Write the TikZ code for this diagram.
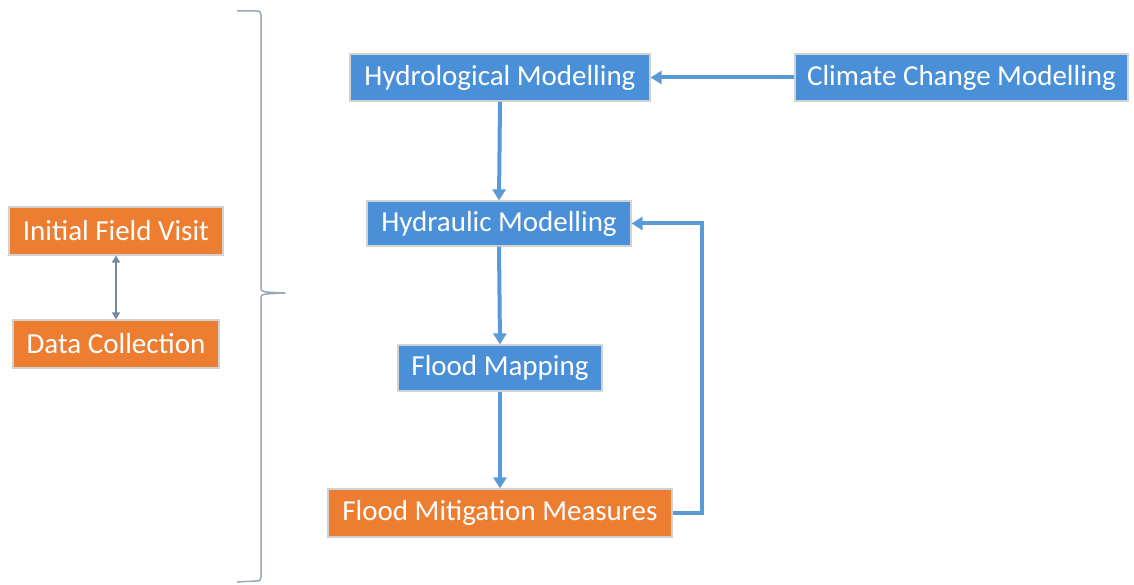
\documentclass[tikz,border=0pt]{standalone}
\usepackage{fontspec}
\setmainfont{Carlito}
\usetikzlibrary{arrows.meta}
\definecolor{boxblue}{HTML}{4A90D9}
\definecolor{boxorange}{HTML}{ED7D31}
\definecolor{linkblue}{HTML}{5B9BD5}
\definecolor{bracegray}{HTML}{9AA8B8}
\begin{document}
\begin{tikzpicture}[x=1pt,y=-1pt,
  box/.style={draw=gray!35, line width=1.2pt, text=white, inner sep=0pt,
    font=\fontsize{29}{31}\selectfont},
  bluebox/.style={box, fill=boxblue},
  orangebox/.style={box, fill=boxorange},
  flow/.style={draw=linkblue, line width=4pt, -{Triangle[length=11pt,width=13pt]}},
  thinlink/.style={draw=gray!70!linkblue, line width=1.6pt, {Triangle[length=7pt,width=8pt,fill=linkblue]}-{Triangle[length=7pt,width=8pt,fill=linkblue]}}
]
\useasboundingbox (0,0) rectangle (1134,585);

% left-hand preparation steps
\node[orangebox, minimum width=214pt, minimum height=48pt] (visit) at (116,231) {Initial Field Visit};
\node[orangebox, minimum width=206pt, minimum height=48pt] (data) at (116,344) {Data Collection};
\draw[thinlink] (visit.south) -- (data.north);

% brace grouping the preparation steps
\draw[bracegray, line width=1.5pt, line join=round]
  (237,11) -- (256,11) .. controls (260,11) .. (261,15) -- (261,289)
  .. controls (262,292) .. (285,293)
  .. controls (262,294) .. (261,297) -- (261,577)
  .. controls (260,581) .. (256,581) -- (237,582);

% modelling chain
\node[bluebox, minimum width=300pt, minimum height=47pt] (hydro) at (500,77.5) {Hydrological Modelling};
\node[bluebox, minimum width=333pt, minimum height=47pt] (climate) at (961.5,77.5) {Climate Change Modelling};
\node[bluebox, minimum width=264pt, minimum height=45pt] (hydraulic) at (499,223.5) {Hydraulic Modelling};
\node[bluebox, minimum width=204pt, minimum height=46pt] (mapping) at (500,368) {Flood Mapping};
\node[orangebox, minimum width=344pt, minimum height=48pt] (mitigation) at (500,513) {Flood Mitigation Measures};

\draw[flow] (climate.west) -- (hydro.east);
\draw[flow] (hydro.south) -- (hydraulic.north);
\draw[flow] (hydraulic.south) -- (mapping.north);
\draw[flow] (mapping.south) -- (mitigation.north);
\draw[flow, line join=miter] (mitigation.east) -- (702,513) |- (hydraulic.east);
\end{tikzpicture}
\end{document}
